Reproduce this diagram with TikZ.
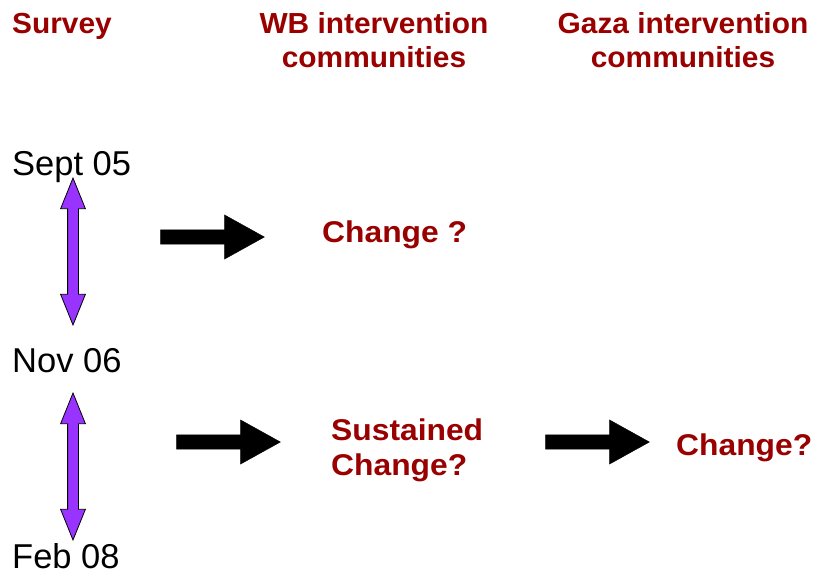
\documentclass[tikz,border=0pt]{standalone}
\usepackage{fontspec}
\setmainfont{Liberation Sans}
\newfontfamily\headfont[FakeStretch=1.03]{Liberation Sans}
\newfontfamily\lblfont[FakeStretch=1.06]{Liberation Sans}
\usetikzlibrary{shapes.arrows}
\definecolor{dred}{RGB}{153,0,0}
\definecolor{violet}{RGB}{153,51,255}
\begin{document}
\begin{tikzpicture}[x=1pt,y=-1pt,
  head/.style={text=dred,font=\headfont\fontsize{29}{34.5}\selectfont\bfseries,inner sep=0pt},
  lbl/.style={text=dred,font=\lblfont\fontsize{30}{36}\selectfont\bfseries,inner sep=0pt,anchor=base west},
  date/.style={text=black,font=\fontsize{34.5}{40}\selectfont,inner sep=0pt,anchor=base west},
  blk/.style={single arrow,draw=black,fill=black,inner sep=0pt,text width=0pt,text height=14pt,text depth=0pt,
    single arrow head extend=15pt,single arrow tip angle=58,single arrow head indent=0pt,minimum height=104pt,line width=0.3pt},
  dbl/.style={double arrow,draw=black,fill=violet,inner sep=0pt,text width=0pt,text height=10pt,text depth=0pt,
    double arrow head extend=7pt,double arrow tip angle=44,double arrow head indent=0pt,minimum height=147pt,line width=0.8pt,rotate=90}]
\useasboundingbox (0,0) rectangle (814,574);
% headers
\node[head,anchor=base west] (survey) at (12,33) {Survey};
\node[head,align=center,anchor=north] (wb) at (374,12) {WB intervention\\communities};
\node[head,align=center,anchor=north] (gaza) at (683,12) {Gaza intervention\\communities};
% dates
\node[date] (sept) at (12,175) {Sept 05};
\node[date] (nov) at (12,372) {Nov 06};
\node[date] (feb) at (12,568) {Feb 08};
% double arrows
\node[dbl] (d1) at (73,251.5) {};
\node[dbl] (d2) at (73,466.5) {};
% black arrows
\node[blk] (a1) at (206,237) {};
\node[blk] (a2) at (222,442) {};
\node[blk] (a3) at (591,442) {};
% labels
\node[lbl] (c1) at (322,242) {Change ?};
\node[lbl] (c2) at (331,440) {Sustained};
\node[lbl] (c2b) at (331,475) {Change?};
\node[lbl] (c3) at (676,455) {Change?};
\end{tikzpicture}
\end{document}
